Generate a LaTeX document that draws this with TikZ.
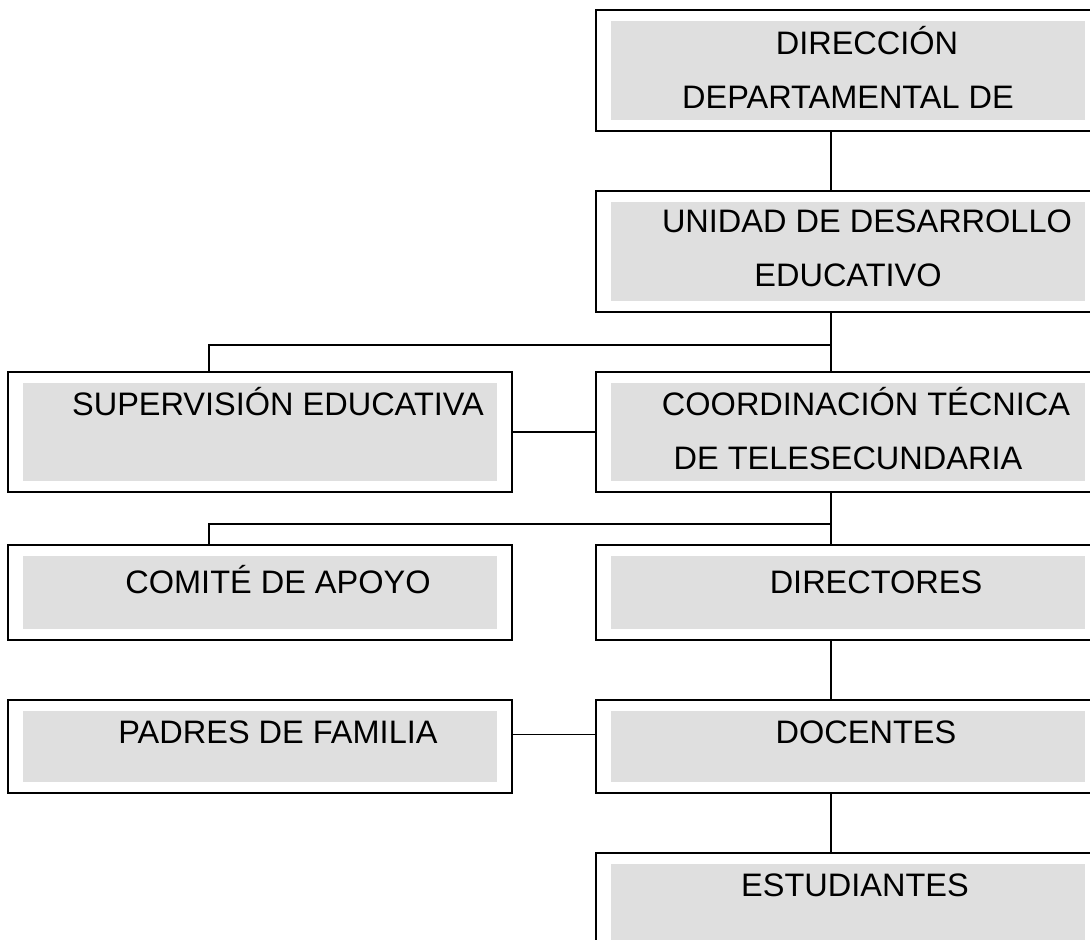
\documentclass[tikz,border=0pt]{standalone}
\usepackage{fontspec}
\setmainfont{Liberation Sans}

\begin{document}
\begin{tikzpicture}[x=1pt,y=1pt]
      \tikzset{box/.style={draw=black, line width=1.8pt, fill=white, minimum width=504pt, inner sep=0pt, align=center,
          font=\fontsize{32.5}{54}\selectfont,
          path picture={\fill[gray!25] ([xshift=15pt,yshift=-11pt]path picture bounding box.north west) rectangle ([xshift=-15pt,yshift=11pt]path picture bounding box.south east);}}}
      \tikzset{link/.style={draw=black, line width=1.3pt}}

      \clip (0,0) rectangle (1090,-940);

      % right column
      \node[box,minimum height=121pt,text depth=7pt](dir) at (848,-70.5) {\hspace*{38pt}DIRECCIÓN\\DEPARTAMENTAL DE};
      \node[box,minimum height=121pt,text depth=7pt](uni) at (848,-251.5) {\hspace*{38pt}UNIDAD DE DESARROLLO\\EDUCATIVO};
      \node[box,minimum height=120pt,text depth=7pt](coord) at (848,-432) {\hspace*{36pt}COORDINACIÓN TÉCNICA\\DE TELESECUNDARIA};
      \node[box,text height=48pt,text depth=47pt](dire) at (848,-592.5) {\hspace*{56pt}DIRECTORES};
      \node[box,text height=43pt,text depth=50pt](doc) at (848,-746.5) {\hspace*{36pt}DOCENTES};
      \node[box,text height=43pt,text depth=77pt](est) at (848,-913) {\hspace*{14pt}ESTUDIANTES};

      % left column
      \node[box,text height=43pt,text depth=77pt](sup) at (260,-432) {\hspace*{36pt}SUPERVISIÓN EDUCATIVA};
      \node[box,text height=48pt,text depth=47pt](com) at (260,-592.5) {\hspace*{36pt}COMITÉ DE APOYO};
      \node[box,text height=43pt,text depth=50pt](pad) at (260,-746.5) {\hspace*{36pt}PADRES DE FAMILIA};

      \draw[link] ([xshift=-17pt]dir.south) -- ([xshift=-17pt]uni.north);
      \draw[link] ([xshift=-17pt]uni.south) -- ([xshift=-17pt]coord.north);
      \draw[link] ([xshift=-17pt,yshift=-32pt]uni.south) -| ([xshift=-51pt]sup.north);
      \draw[link] (sup.east) -- (coord.west);
      \draw[link] ([xshift=-17pt]coord.south) -- ([xshift=-17pt]dire.north);
      \draw[link] ([xshift=-17pt,yshift=-31pt]coord.south) -| ([xshift=-51pt]com.north);
      \draw[link] ([xshift=-17pt]dire.south) -- ([xshift=-17pt]doc.north);
      \draw[link] ([yshift=12pt]pad.east) -- ([yshift=12pt]doc.west);
      \draw[link] ([xshift=-17pt]doc.south) -- ([xshift=-17pt]est.north);
\end{tikzpicture}
\end{document}
